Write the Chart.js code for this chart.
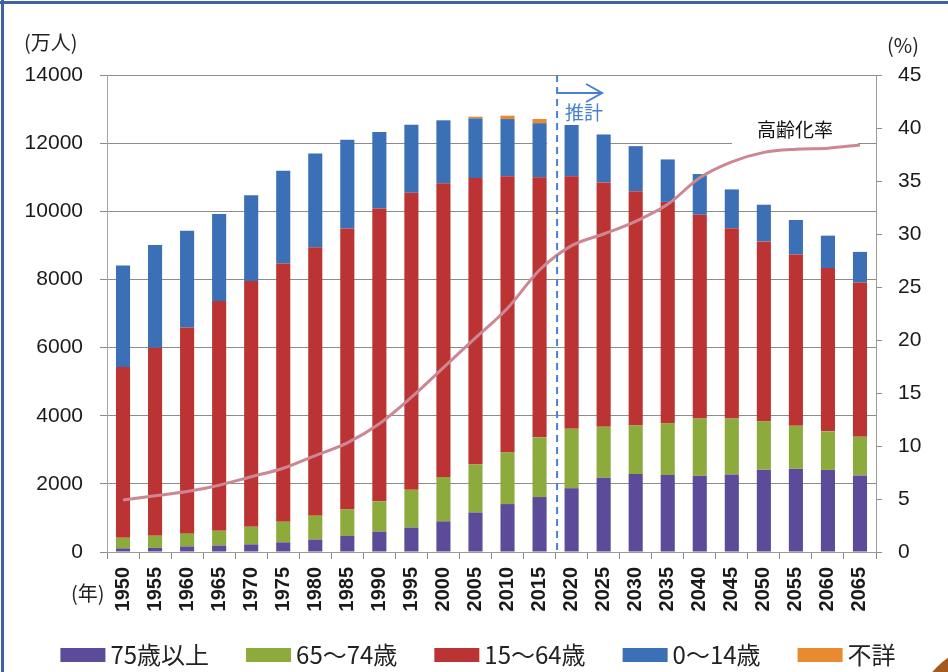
<!DOCTYPE html>
<html><head><meta charset="utf-8">
<script src="https://cdn.jsdelivr.net/npm/chart.js@4/dist/chart.umd.min.js"></script>
<style>html,body{margin:0;padding:0;background:#fff;overflow:hidden}canvas{display:block}</style>
</head><body>
<canvas id="c" width="948" height="672"></canvas>
<script>
const years = ['1950','1955','1960','1965','1970','1975','1980','1985','1990','1995','2000','2005','2010','2015','2020','2025','2030','2035','2040','2045','2050','2055','2060','2065'];
const age75plus = [107,120,164,189,224,284,366,471,597,717,900,1160,1407,1613,1872,2180,2288,2260,2239,2277,2417,2446,2408,2248];
const age65to74 = [309,359,375,433,516,602,699,776,892,1109,1301,1407,1517,1754,1747,1497,1428,1522,1681,1643,1424,1258,1133,1133];
const age15to64 = [5017,5517,6047,6744,7212,7581,7883,8251,8590,8716,8622,8409,8103,7629,7406,7170,6875,6494,5978,5584,5275,5028,4793,4529];
const age0to14 = [2979,3012,2843,2553,2515,2722,2751,2603,2249,2001,1847,1752,1680,1589,1507,1407,1321,1246,1194,1138,1077,1012,951,898];
const ageUnknown = [0,0,0,0,0,0,0,0,0,0,0,49,99,124,0,0,0,0,0,0,0,0,0,0];
const agingRate = [4.9,5.3,5.7,6.3,7.1,7.9,9.1,10.3,12.1,14.6,17.4,20.2,23.0,26.6,28.9,30.0,31.2,32.8,35.3,36.8,37.7,38.0,38.1,38.4];
const leftTicks = {min:0, max:14000, step:2000};
const rightTicks = {min:0, max:45, step:5};
const projectionStartIndex = 13.5; // between 2015 and 2020

const NUM = '"Liberation Sans", Arial, sans-serif';
const JP = '"Noto Sans CJK JP", "Noto Sans", sans-serif';
const COLORS = {p75:'#5b4b98', p65:'#8dab3c', p15:'#bb3433', p0:'#3b6fb6', unk:'#e98a30', line:'#cc8792', blue:'#4a80d2'};

const legendItems = [
  {label:'75歳以上', color:COLORS.p75},
  {label:'65～74歳', color:COLORS.p65},
  {label:'15～64歳', color:COLORS.p15},
  {label:'0～14歳', color:COLORS.p0},
  {label:'不詳', color:COLORS.unk}
];

const overlay = {
  id:'overlay',
  beforeDatasetsDraw(chart){
    const c = chart.ctx, x = chart.scales.x;
    const xs = x.getPixelForValue(projectionStartIndex) + 1.5;
    c.save();
    c.fillStyle = '#fff';
    c.fillRect(xs - 10, 78, 50, 68);
    c.fillRect(732, 113, 126, 33);
    c.restore();
  },
  afterDatasetsDraw(chart){
    const c = chart.ctx, x = chart.scales.x, a = chart.chartArea;
    const xs = x.getPixelForValue(projectionStartIndex) + 1.5;
    c.save();
    c.strokeStyle = COLORS.blue; c.lineWidth = 2; c.setLineDash([7,5]);
    c.beginPath(); c.moveTo(xs, a.top); c.lineTo(xs, a.bottom); c.stroke();
    c.setLineDash([]);
    c.lineWidth = 2;
    c.beginPath(); c.moveTo(xs, 93); c.lineTo(xs + 45, 93); c.stroke();
    c.beginPath(); c.moveTo(xs + 29, 84); c.lineTo(xs + 45, 93); c.lineTo(xs + 29, 102); c.stroke();
    c.fillStyle = COLORS.blue; c.font = '19px ' + JP; c.textBaseline = 'middle'; c.textAlign = 'left';
    c.fillText('推計', xs + 8, 113);
    c.fillStyle = '#111'; c.font = '19px ' + JP; c.textAlign = 'center';
    c.fillText('高齢化率', 795, 130);
    c.restore();
  },
  afterDraw(chart){
    const c = chart.ctx;
    c.save();
    c.fillStyle = '#222'; c.textBaseline = 'middle';
    c.font = '20px ' + JP;
    c.textAlign = 'left'; c.fillText('(万人)', 24, 42);
    c.fillText('(%)', 887, 45);
    c.fillText('(年)', 71, 593);
    c.font = '24px ' + JP;
    const sw = 45, sh = 14, g1 = 5, g2 = 37, cy = 655;
    const widths = legendItems.map(it => sw + g1 + c.measureText(it.label).width);
    const total = widths.reduce((s,w)=>s+w,0) + g2*(legendItems.length-1);
    let lx = 478 - total/2;
    legendItems.forEach((it,i)=>{
      c.fillStyle = it.color; c.fillRect(lx, cy - sh/2, sw, sh);
      c.fillStyle = '#222'; c.textAlign = 'left';
      c.fillText(it.label, lx + sw + g1, cy);
      lx += widths[i] + g2;
    });
    c.fillStyle = '#3f62a0';
    c.fillRect(0, 1, 948, 3);
    c.fillRect(1, 0, 3, 672);
    c.fillStyle = '#a6591e';
    c.beginPath(); c.arc(990, 720, 75, 0, Math.PI*2); c.fill();
    c.restore();
  }
};

function barDs(label, data, color){
  return {type:'bar', label, data, backgroundColor:color, borderWidth:0, yAxisID:'y', stack:'pop',
          categoryPercentage:1, barPercentage:0.44, order:1};
}

new Chart(document.getElementById('c'), {
  data:{
    labels: years,
    datasets:[
      {type:'line', label:'高齢化率', data:agingRate, yAxisID:'y1', borderColor:COLORS.line, borderWidth:3,
       pointRadius:0, cubicInterpolationMode:'monotone', fill:false, order:0},
      barDs('75歳以上', age75plus, COLORS.p75),
      barDs('65～74歳', age65to74, COLORS.p65),
      barDs('15～64歳', age15to64, COLORS.p15),
      barDs('0～14歳', age0to14, COLORS.p0),
      barDs('不詳', ageUnknown, COLORS.unk)
    ]
  },
  options:{
    responsive:false, animation:false, devicePixelRatio:1,
    layout:{padding:{top:75, left:0, right:0, bottom:0}},
    plugins:{legend:{display:false}, tooltip:{enabled:false}},
    scales:{
      x:{stacked:true, offset:true,
         grid:{drawOnChartArea:false, drawTicks:true, tickLength:7, color:'#8c8c8c', offset:true},
         border:{color:'#9a9a9a'},
         ticks:{autoSkip:false, minRotation:90, maxRotation:90, padding:8, color:'#1a1a1a',
                font:{family:NUM, size:20, weight:'bold'}},
         afterFit(s){ s.height = 120; }},
      y:{stacked:true, position:'left', min:leftTicks.min, max:leftTicks.max,
         grid:{color:'#8c8c8c', tickLength:7},
         border:{color:'#9aa6b8'},
         ticks:{stepSize:leftTicks.step, padding:17, color:'#1a1a1a', font:{family:NUM, size:21},
                callback:(v)=>String(v)},
         afterFit(s){ s.width = 107; }},
      y1:{position:'right', min:rightTicks.min, max:rightTicks.max,
          grid:{drawOnChartArea:false, tickLength:6, color:'#8c8c8c'},
          border:{color:'#9a9a9a'},
          ticks:{stepSize:rightTicks.step, padding:16, color:'#1a1a1a', font:{family:NUM, size:21},
                 callback:(v)=>String(v)},
          afterFit(s){ s.width = 72; }}
    }
  },
  plugins:[overlay]
});
</script>
</body></html>
